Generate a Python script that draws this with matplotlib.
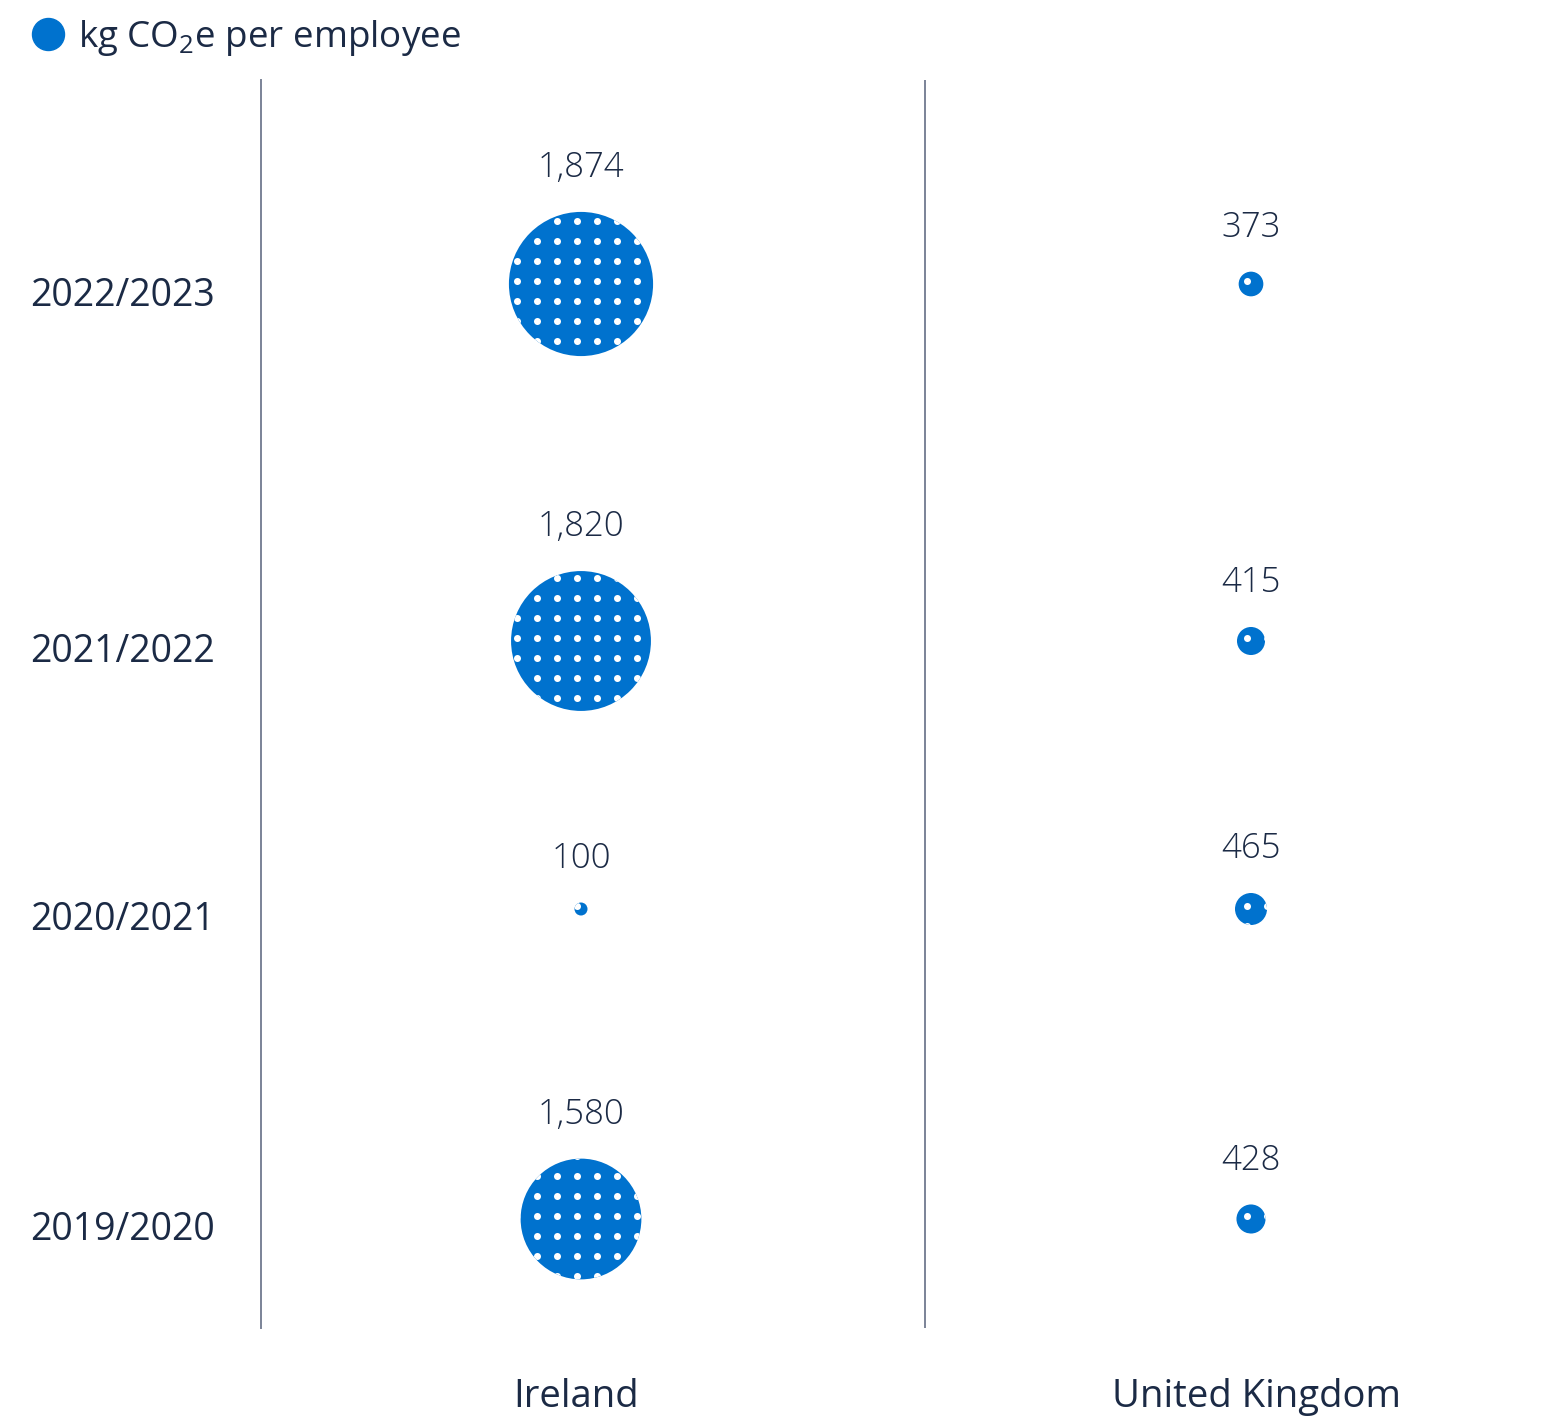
import numpy as np
import matplotlib.pyplot as plt
from matplotlib.lines import Line2D
from matplotlib.patches import Circle
from matplotlib.transforms import IdentityTransform, ScaledTranslation

plt.rcParams['font.family'] = ['Open Sans', 'DejaVu Sans']
plt.rcParams['mathtext.fontset'] = 'custom'
plt.rcParams['mathtext.rm'] = 'Open Sans'

# data
years = ['2022/2023', '2021/2022', '2020/2021', '2019/2020']
countries = ['Ireland', 'United Kingdom']
ireland = [1874, 1820, 100, 1580]
uk = [373, 415, 465, 428]
legend_label = r'kg CO$_\mathregular{2}$e per employee'

# layout (pixels)
W, H, DPI = 1553, 1418, 100
row_y = [284, 641, 909, 1219]   # row centres, measured from the top
sep_x = 0.513                   # divider between the two columns
xlabel_nudge = [-5, 6]          # country labels sit slightly off the bubble centre
blue = '#0072ce'
ink = '#1b2a45'
rule = '#7b8397'


def radius_px(v):
    # bubble radius grows linearly with the value, with a floor for tiny ones
    return max(0.0398 * v - 2.5, 6.5)


fig = plt.figure(figsize=(W / DPI, H / DPI), dpi=DPI)
ax = fig.add_axes([261 / W, 90 / H, 1 - 261 / W, 1248 / H])
ax.set_xlim(-320 / 670, 972 / 670)
ax.set_ylim(1328, 80)

for s in ['top', 'right', 'bottom']:
    ax.spines[s].set_visible(False)
ax.spines['left'].set_color(rule)
ax.spines['left'].set_linewidth(1.4)
ax.axvline(sep_x, color=rule, lw=1.4)

ax.set_xticks([0, 1], countries)
ax.set_yticks(row_y, years)
ax.tick_params(axis='both', length=0, labelcolor=ink)
ax.tick_params(axis='x', pad=36, labelsize=27.5)
ax.tick_params(axis='y', pad=33, labelsize=27)
for lbl in ax.get_yticklabels():
    lbl.set_transform(lbl.get_transform() + ScaledTranslation(0, -7 / DPI, fig.dpi_scale_trans))
for lbl, dx in zip(ax.get_xticklabels(), xlabel_nudge):
    lbl.set_transform(lbl.get_transform() + ScaledTranslation(dx / DPI, 0, fig.dpi_scale_trans))

# bubbles
xs, ys, rs = [], [], []
for xi, vals in enumerate([ireland, uk]):
    for yv, v in zip(row_y, vals):
        xs.append(xi)
        ys.append(yv)
        rs.append(radius_px(v))
        ax.annotate(f'{v:,}', (xi, yv), xytext=(0, radius_px(v) + 44),
                    textcoords='offset pixels', ha='center', va='center',
                    fontsize=25, fontweight='light', color=ink)

sizes = [(2 * r * 72 / DPI) ** 2 for r in rs]
ax.scatter(xs, ys, s=sizes, color=blue, linewidths=0, zorder=2)

# white dot pattern inside every bubble
steps = 20 * np.arange(-5, 6)
for x, y, r in zip(xs, ys, rs):
    cx, cy = ax.transData.transform((x, y))
    gx, gy = np.meshgrid(cx - 4 + steps, cy + 3 + steps)
    dots = ax.scatter(gx.ravel(), gy.ravel(), s=(7 * 72 / DPI) ** 2, color='white',
                      linewidths=0, transform=IdentityTransform(), zorder=3)
    dots.set_clip_path(Circle((cx, cy), r, transform=IdentityTransform()))

handle = Line2D([], [], marker='o', ls='', color=blue, markersize=32 * 72 / DPI)
fig.legend(handles=[handle], labels=[legend_label], loc='upper left',
           bbox_to_anchor=(30 / W, 1 - 18 / H), frameon=False, fontsize=26.5,
           handlelength=1.0, handletextpad=0.3, borderpad=0, borderaxespad=0,
           labelcolor=ink)

fig.savefig('out.png', dpi=DPI)
